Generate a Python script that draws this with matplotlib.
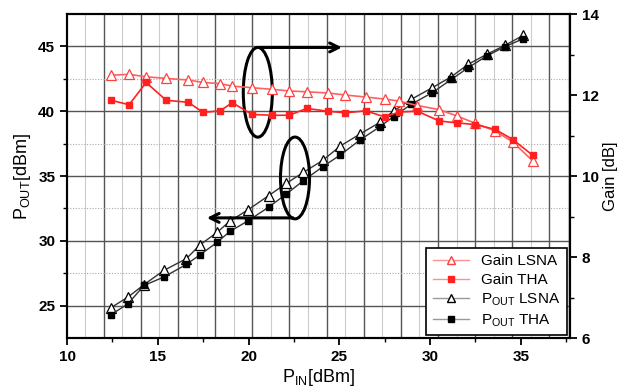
import numpy as np
import matplotlib
matplotlib.use("Agg")
import matplotlib.pyplot as plt
from matplotlib.patches import Ellipse
from matplotlib.lines import Line2D

plt.rcParams['font.family'] = ['Liberation Sans', 'DejaVu Sans']
plt.rcParams['mathtext.fontset'] = 'custom'
plt.rcParams['mathtext.rm'] = 'Liberation Sans'
plt.rcParams['mathtext.it'] = 'Liberation Sans'

# gain curves (right axis)
pin_gain = [12.43, 13.42, 14.36, 15.46, 16.68, 17.5, 18.44, 19.1, 20.2, 21.3, 22.25, 23.2,
            24.35, 25.34, 26.45, 27.5, 28.3, 29.3, 30.5, 31.5, 32.5, 33.6, 34.56, 35.66]
gain_lsna = [12.49, 12.51, 12.45, 12.41, 12.37, 12.31, 12.28, 12.22, 12.18, 12.14, 12.10, 12.08,
             12.05, 12.00, 11.95, 11.90, 11.85, 11.74, 11.64, 11.48, 11.30, 11.11, 10.84, 10.37]
gain_tha = [11.87, 11.76, 12.31, 11.87, 11.82, 11.57, 11.61, 11.81, 11.52, 11.50, 11.50, 11.67,
            11.60, 11.56, 11.61, 11.46, 11.58, 11.60, 11.36, 11.31, 11.27, 11.15, 10.90, 10.51]

# output power curves (left axis)
pin_pout = [12.43, 13.37, 14.24, 15.34, 16.57, 17.33, 18.28, 18.97, 19.99, 21.1, 22.09, 23.02,
            24.09, 25.05, 26.15, 27.22, 27.99, 28.97, 30.13, 31.18, 32.1, 33.11, 34.12, 35.13]
pout_lsna = [24.85, 25.67, 26.62, 27.72, 28.62, 29.69, 30.67, 31.52, 32.41, 33.48, 34.44, 35.28,
             36.21, 37.31, 38.25, 39.13, 40.02, 40.92, 41.82, 42.67, 43.62, 44.38, 45.08, 45.85]
pout_tha = [24.31, 25.15, 26.56, 27.21, 28.18, 28.92, 29.9, 30.72, 31.56, 32.59, 33.62, 34.64,
            35.72, 36.62, 37.79, 38.79, 39.59, 40.54, 41.44, 42.46, 43.36, 44.25, 44.98, 45.59]

fig = plt.figure(figsize=(6.17, 3.89), dpi=100)
ax = fig.add_axes([0.1086, 0.131, 0.815, 0.833])
ax2 = ax.twinx()

ax.set_xlim(10, 37.7)
ax.set_ylim(22.5, 47.5)
ax2.set_ylim(6, 14)

# background grid (offset grid as in the original figure)
for k, gx in enumerate(np.arange(11.0, 38, 1.023)):
    if k % 2 == 1:
        ax.axvline(gx, color='#555555', lw=1.0, zorder=0)
    else:
        ax.axvline(gx, color='#cccccc', lw=0.8, zorder=0)
for gy in [25, 30, 35, 40, 45]:
    ax.axhline(gy, color='#555555', lw=1.0, zorder=0)
for gy in [27.5, 32.5, 37.5, 42.5, 47.5]:
    ax.axhline(gy, color='#aaaaaa', lw=0.8, ls=(0, (1, 1.5)), zorder=0)

ax.plot(pin_pout, pout_lsna, color='#333333', lw=1.0, marker='^', ms=6.5,
        mfc='white', mec='black', mew=0.9)
ax.plot(pin_pout, pout_tha, color='#333333', lw=1.0, marker='s', ms=5,
        mfc='black', mec='black')
ax2.plot(pin_gain, gain_lsna, color='#ff6060', lw=1.2, marker='^', ms=6.5,
         mfc='white', mec='#ff4040', mew=0.9)
ax2.plot(pin_gain, gain_tha, color='#ff2020', lw=1.2, marker='s', ms=5,
         mfc='#ff2020', mec='#ff2020')

# annotations: ellipses with arrows
ax.add_patch(Ellipse((20.51, 41.46), 1.6, 6.92, fill=False, ec='black', lw=2.2, zorder=5))
ax.annotate('', xy=(25.3, 44.92), xytext=(20.45, 44.92),
            arrowprops=dict(arrowstyle='->', lw=2.2, color='black', mutation_scale=16), zorder=5)
ax.add_patch(Ellipse((22.56, 34.85), 1.6, 6.31, fill=False, ec='black', lw=2.2, zorder=5))
ax.annotate('', xy=(17.55, 31.77), xytext=(22.6, 31.77),
            arrowprops=dict(arrowstyle='->', lw=2.2, color='black', mutation_scale=16), zorder=5)

# ticks
ax.set_xticks([10, 15, 20, 25, 30, 35])
ax.set_xticks([12.5, 17.5, 22.5, 27.5, 32.5, 37.5], minor=True)
ax.set_yticks([25, 30, 35, 40, 45])
ax.set_yticks([27.5, 32.5, 37.5, 42.5], minor=True)
ax2.set_yticks([6, 8, 10, 12, 14])
ax2.set_yticks([7, 9, 11, 13], minor=True)
for a in (ax, ax2):
    a.tick_params(which='major', direction='out', length=5, width=1.3, labelsize=11)
    a.tick_params(which='minor', direction='out', length=3, width=1.0)
    for lab in a.get_xticklabels() + a.get_yticklabels():
        lab.set_fontweight('bold')
    for sp in a.spines.values():
        sp.set_linewidth(1.5)
ax.tick_params(axis='x', top=False)

ax.set_xlabel(r'P$_{\mathrm{IN}}$[dBm]', fontsize=13, labelpad=2)
ax.set_ylabel(r'P$_{\mathrm{OUT}}$[dBm]', fontsize=13, labelpad=4)
ax2.set_ylabel('Gain [dB]', fontsize=12, labelpad=3)

# legend proxies (lighter lines as in the original legend)
handles = [
    Line2D([], [], color='#ff9090', lw=1.0, marker='^', ms=6, mfc='white', mec='#ff4040'),
    Line2D([], [], color='#ff9090', lw=1.0, marker='s', ms=5, mfc='#ff2020', mec='#ff2020'),
    Line2D([], [], color='#999999', lw=1.0, marker='^', ms=6, mfc='white', mec='black'),
    Line2D([], [], color='#999999', lw=1.0, marker='s', ms=5, mfc='black', mec='black'),
]
labels = ['Gain LSNA', 'Gain THA', r'P$_{\mathrm{OUT}}$ LSNA', r'P$_{\mathrm{OUT}}$ THA']
leg = ax2.legend(handles, labels, loc='lower right', fontsize=11,
                 frameon=True, fancybox=False, edgecolor='black', framealpha=1,
                 borderpad=0.4, handlelength=2.4, labelspacing=0.3,
                 borderaxespad=0.2, bbox_to_anchor=(1.0, 0.0))
leg.get_frame().set_linewidth(1.2)

fig.savefig('out.png', dpi=100)
